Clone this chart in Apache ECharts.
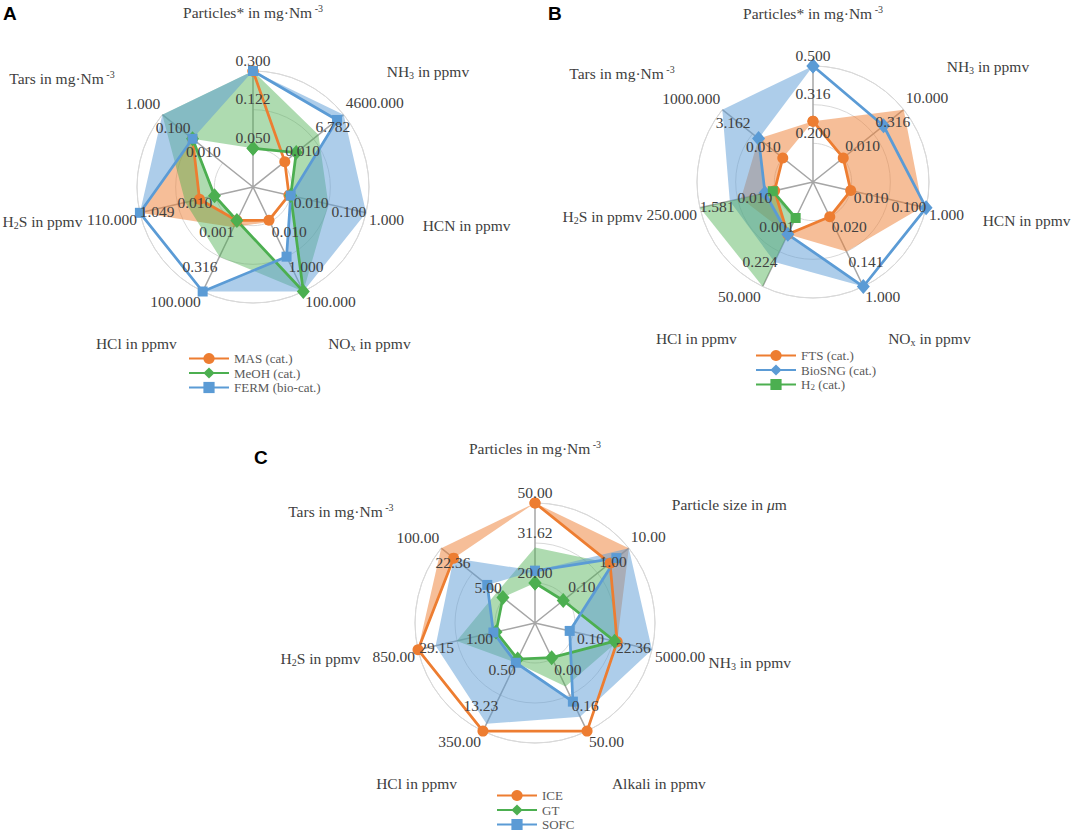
<!DOCTYPE html>
<html><head><meta charset="utf-8">
<script src="https://cdn.jsdelivr.net/npm/echarts@6/dist/echarts.min.js"></script>
<style>html,body{margin:0;padding:0;background:#fff}#c{width:1072px;height:835px}</style>
</head><body><div id="c"></div>
<script>
// ---------------- DATA ----------------
// Panel A
const axesA = ['Particles* in mg·Nm{sup| -3}', 'NH{sub|3} in ppmv', 'HCN in ppmv', 'NO{sub|x} in ppmv', 'HCl in ppmv', 'H{sub|2}S in ppmv', 'Tars in mg·Nm{sup| -3}'];
const ticksA = [[0.05, 0.1225, 0.3], [0.01, 6.782, 4600], [0.01, 0.1, 1], [0.01, 1, 100], [0.001, 0.3162, 100], [0.01, 1.049, 110], [0.01, 0.1, 1]];
const masLine  = [0.3, 0.014, 0.009, 0.008, 0.0008, 0.07, 0.1];
const masMax   = [0.3, 0.014, 0.009, 0.01, 0.0024, 110, 0.1];
const meohLine = [0.05, 0.165, 0.01, 100, 0.0008, 0.011, 0.1];
const meohMax  = [0.3, 20, 0.1, 100, 0.316, 0.4, 1];
const fermLine = [0.3, 1100, 0.01, 1, 100, 110, 0.1];
const fermMax  = [0.3, 4600, 1, 100, 100, 110, 1];
// Panel B
const axesB = ['Particles* in mg·Nm{sup| -3}', 'NH{sub|3} in ppmv', 'HCN in ppmv', 'NO{sub|x} in ppmv', 'HCl in ppmv', 'H{sub|2}S in ppmv', 'Tars in mg·Nm{sup| -3}'];
const ticksB = [[0.2, 0.3162, 0.5], [0.01, 0.3162, 10], [0.01, 0.1, 1], [0.02, 0.1414, 1], [0.001, 0.2236, 50], [0.01, 1.581, 250], [0.01, 3.162, 1000]];
const ftsLine    = [0.26, 0.01, 0.01, 0.02, 0.015, 0.011, 0.01];
const ftsMax     = [0.26, 10, 0.8, 0.141, 0.015, 1, 1];
const biosngLine = [0.5, 1, 1, 1, 0.015, 0.04, 1];
const biosngMax  = [0.5, 1, 1, 1, 1.1, 4.5, 1000];
const h2Line     = [null, null, null, null, 0.0012, 0.014, null];
const h2Max      = [null, null, null, null, 50, 250, null];
// Panel C
const axesC = ['Particles in mg·Nm{sup| -3}', 'Particle size in {it|μ}m', 'NH{sub|3} in ppmv', 'Alkali in ppmv', 'HCl in ppmv', 'H{sub|2}S in ppmv', 'Tars in mg·Nm{sup| -3}'];
const ticksC = [[20, 31.62, 50], [0.1, 1, 10], [0.1, 22.36, 5000], [0.0005, 0.158, 50], [0.5, 13.23, 350], [1, 29.15, 850], [5, 22.36, 100]];
const iceLine  = [50, 2.5, 40, 50, 350, 850, 55];
const iceMax   = [50, 10, 40, 50, 350, 850, 100];
const gtLine   = [20, 0.08, 28, 0.0004, 0.5, 1, 5.2];
const gtMax    = [30, 2.5, 40, 0.04, 0.7, 30, 7];
const sofcLine = [23, 4, 0.055, 0.45, 0.7, 1.25, 11];
const sofcMax  = [23, 10, 5000, 5, 180, 185, 55];

// ---------------- STYLE ----------------
const ORANGE = '#ED7D31', GREEN = '#4CAF50', BLUE = '#5B9BD5';
const F_OR = 'rgba(237,125,49,0.5)', F_GR = 'rgba(76,175,80,0.45)', F_BL = 'rgba(91,155,213,0.5)';
const TXT = '#404040';
const FONT = 'Liberation Serif, Times New Roman, DejaVu Serif, serif';
// per-axis placement of ring labels: [align, verticalAlign, dx, dy]
const tickStyle = [
  ['center', 'bottom', 0, -3],
  ['left', 'bottom', 2, -4],
  ['left', 'middle', 3, 7],
  ['left', 'top', 2, 2],
  ['right', 'top', -2, 2],
  ['right', 'middle', -3, 7],
  ['right', 'bottom', -2, -3]
];
// per-axis placement of axis names: [align, verticalAlign, distance beyond ring, dx, dy]
const nameStyle = [
  ['center', 'bottom', 50, 0, 0],
  ['left', 'bottom', 55, 0, 0],
  ['left', 'middle', 58, 0, 0],
  ['left', 'top', 48, 4, 0],
  ['right', 'top', 48, -5, 0],
  ['right', 'middle', 59, 0, -4],
  ['right', 'bottom', 52, -7, 5]
];
const RICH = {
  sup: { fontSize: 10, fontFamily: FONT, fill: TXT, lineHeight: 10, verticalAlign: 'top' },
  sub: { fontSize: 10, fontFamily: FONT, fill: TXT, lineHeight: 10, verticalAlign: 'bottom' },
  it: { fontSize: 15.5, fontFamily: FONT, fill: TXT, fontStyle: 'italic' }
};

const panels = [
  { letter: 'A', lx: 3, ly: 4, center: [253, 187], radius: 116, topGap: 50, axes: axesA, ticks: ticksA, dec: 3, legend: [188, 352],
    series: [
      { name: 'MAS (cat.)', color: ORANGE, fill: F_OR, symbol: 'circle', size: 11, line: masLine, max: masMax },
      { name: 'MeOH (cat.)', color: GREEN, fill: F_GR, symbol: 'diamond', size: [13, 15], line: meohLine, max: meohMax },
      { name: 'FERM (bio-cat.)', color: BLUE, fill: F_BL, symbol: 'rect', size: 10, line: fermLine, max: fermMax }
    ] },
  { letter: 'B', lx: 548, ly: 4, center: [813, 182], radius: 116, topGap: 44, axes: axesB, ticks: ticksB, dec: 3, legend: [755, 349],
    series: [
      { name: 'FTS (cat.)', color: ORANGE, fill: F_OR, symbol: 'circle', size: 11, line: ftsLine, max: ftsMax },
      { name: 'BioSNG (cat.)', color: BLUE, fill: F_BL, symbol: 'diamond', size: [13, 15], line: biosngLine, max: biosngMax },
      { name: 'H2 (cat.)', color: GREEN, fill: F_GR, symbol: 'rect', size: 10, line: h2Line, max: h2Max }
    ] },
  { letter: 'C', lx: 254, ly: 448, center: [535, 623], radius: 120, topGap: 46, axes: axesC, ticks: ticksC, dec: 2, legend: [496, 789],
    series: [
      { name: 'ICE', color: ORANGE, fill: F_OR, symbol: 'circle', size: 11, line: iceLine, max: iceMax },
      { name: 'GT', color: GREEN, fill: F_GR, symbol: 'diamond', size: [13, 15], line: gtLine, max: gtMax },
      { name: 'SOFC', color: BLUE, fill: F_BL, symbol: 'rect', size: 10, line: sofcLine, max: sofcMax }
    ] }
];

// log position of a value on an axis: ring 1 = inner tick, ring 3 = outer tick
function pos(v, t) { return v == null ? null : 1 + 2 * Math.log(v / t[0]) / Math.log(t[2] / t[0]); }

function bandSeries(p, i, s) {
  return {
    type: 'custom', coordinateSystem: 'polar', polarIndex: i, silent: true, z: 1, data: [[0, 0]],
    renderItem: function (params, api) {
      const idx = [];
      for (let j = 0; j < 7; j++) if (s.line[j] != null && s.max[j] != null) idx.push(j);
      const U = idx.map(j => api.coord([pos(s.max[j], p.ticks[j]), j]));
      const L = idx.map(j => api.coord([pos(s.line[j], p.ticks[j]), j]));
      let pts;
      if (idx.length === 7) pts = U.concat([U[0], L[0]], L.slice(1).reverse(), [L[0]]);
      else pts = U.concat(L.slice().reverse());
      return { type: 'polygon', shape: { points: pts }, style: { fill: s.fill } };
    }
  };
}
function lineSeries(p, i, s) {
  const d = [];
  for (let j = 0; j < 7; j++) if (s.line[j] != null) d.push([pos(s.line[j], p.ticks[j]), j]);
  if (d.length === 7) d.push(d[0].slice());
  return {
    type: 'line', name: s.name, coordinateSystem: 'polar', polarIndex: i, data: d,
    symbol: s.symbol, symbolSize: s.size, showSymbol: true, clip: false, silent: true, z: 3,
    lineStyle: { color: s.color, width: 2.75 }, itemStyle: { color: s.color }
  };
}
function tickSeries(p, i) {
  const items = [], texts = [];
  p.ticks.forEach((t, j) => t.forEach((v, k) => { items.push([k + 1, j]); texts.push(v.toFixed(p.dec)); }));
  return {
    type: 'custom', coordinateSystem: 'polar', polarIndex: i, silent: true, z: 6, data: items,
    renderItem: function (params, api) {
      const it = items[params.dataIndex], j = it[1];
      const pt = api.coord([it[0], j]), st = tickStyle[j];
      return { type: 'text', x: pt[0] + st[2], y: pt[1] + st[3],
        style: { text: texts[params.dataIndex], fill: TXT, fontSize: 15.5, fontFamily: FONT, align: st[0], verticalAlign: st[1] } };
    }
  };
}
function nameSeries(p, i) {
  const items = p.axes.map((n, j) => [3, j]);
  return {
    type: 'custom', coordinateSystem: 'polar', polarIndex: i, silent: true, z: 6, data: items,
    renderItem: function (params, api) {
      const j = params.dataIndex;
      const o = api.coord([3, j]), c = api.coord([0, j]);
      const len = Math.hypot(o[0] - c[0], o[1] - c[1]);
      const st = nameStyle[j];
      const gap = j === 0 ? p.topGap : st[2];
      const ux = (o[0] - c[0]) / len, uy = (o[1] - c[1]) / len;
      return { type: 'text', x: o[0] + ux * gap + st[3], y: o[1] + uy * gap + st[4],
        style: { text: p.axes[j], rich: RICH, fill: TXT, fontSize: 15.5, fontFamily: FONT, lineHeight: 18, align: st[0], verticalAlign: st[1] } };
    }
  };
}

const series = [];
panels.forEach((p, i) => p.series.forEach(s => series.push(bandSeries(p, i, s))));
panels.forEach((p, i) => p.series.forEach(s => series.push(lineSeries(p, i, s))));
panels.forEach((p, i) => { series.push(tickSeries(p, i)); series.push(nameSeries(p, i)); });

const option = {
  animation: false,
  backgroundColor: '#fff',
  textStyle: { fontFamily: FONT },
  title: panels.map(p => ({ text: p.letter, left: p.lx, top: p.ly, padding: 0,
    textStyle: { fontFamily: 'Liberation Sans, Arial, sans-serif', fontWeight: 'bold', fontSize: 19, color: '#000' } })),
  polar: panels.map(p => ({ center: p.center, radius: p.radius })),
  angleAxis: panels.map((p, i) => ({
    polarIndex: i, type: 'category', data: p.axes.map((a, j) => 'ax' + j), boundaryGap: false,
    startAngle: 90, clockwise: true,
    axisLine: { show: true, lineStyle: { color: '#d9d9d9', width: 1 } },
    axisTick: { show: false }, axisLabel: { show: false },
    splitLine: { show: true, lineStyle: { color: '#a6a6a6', width: 1.5 } }
  })),
  radiusAxis: panels.map((p, i) => ({
    polarIndex: i, type: 'value', min: 0, max: 3, interval: 1,
    axisLine: { show: false }, axisTick: { show: false }, axisLabel: { show: false },
    splitLine: { show: true, lineStyle: { color: '#d9d9d9', width: 1 } }
  })),
  legend: panels.map(p => ({
    data: p.series.map(s => s.name), orient: 'vertical', left: p.legend[0], top: p.legend[1],
    itemWidth: 40, itemHeight: 14, itemGap: 1.5, padding: 0, selectedMode: false,
    formatter: n => n === 'H2 (cat.)' ? 'H{sub|2} (cat.)' : n,
    textStyle: { fontFamily: FONT, fontSize: 13, color: '#595959', lineHeight: 13,
      rich: { sub: { fontFamily: FONT, fontSize: 9, color: '#595959', verticalAlign: 'bottom', lineHeight: 9 } } }
  })),
  series: series
};
const chart = echarts.init(document.getElementById('c'), null, { renderer: 'svg' });
chart.setOption(option);
</script>
</body></html>
